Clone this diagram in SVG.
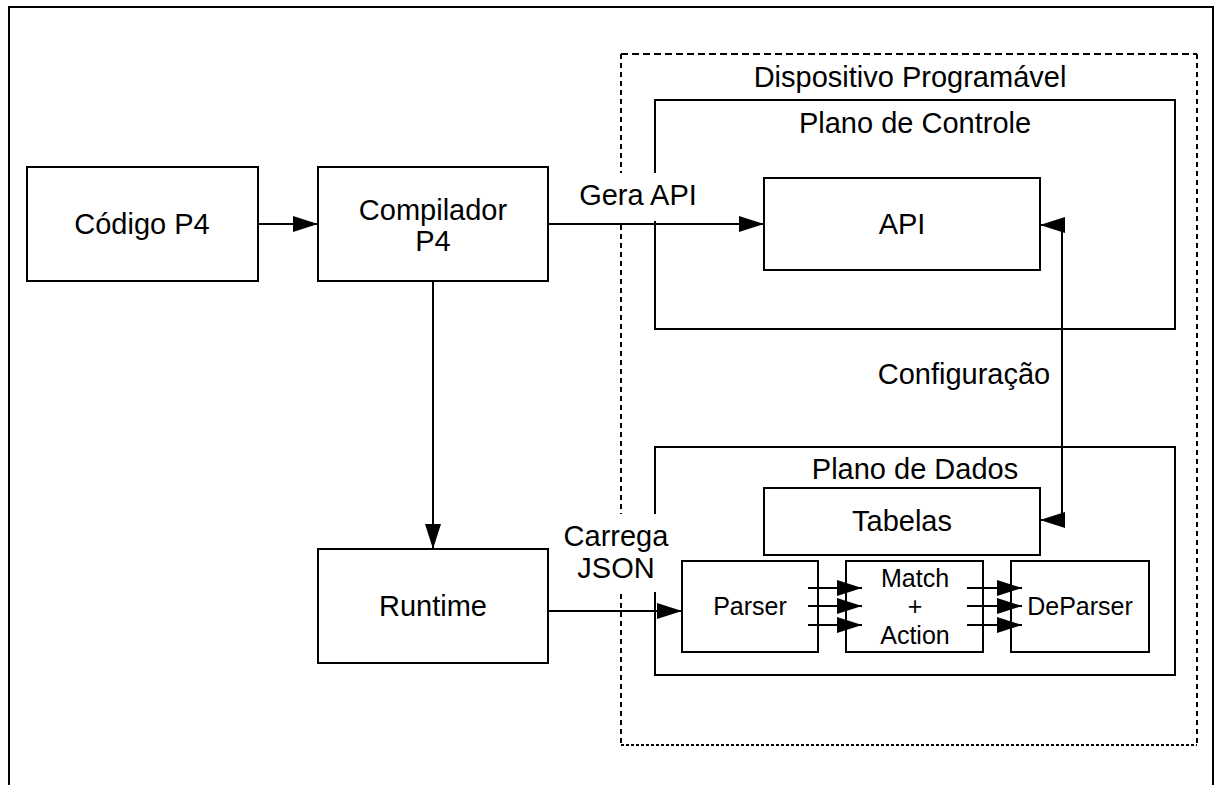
<svg xmlns="http://www.w3.org/2000/svg" width="1216" height="785" viewBox="0 0 1216 785">
  <style>
    .box { fill: #fff; stroke: #000; stroke-width: 2; }
    .frame { fill: none; stroke: #000; stroke-width: 2; }
    .edge { fill: none; stroke: #000; stroke-width: 2; }
    .lbl { font-family: "Liberation Sans", Arial, sans-serif; font-size: 29px; fill: #000; text-anchor: middle; }
    .sm { font-size: 25px; }
    .bg { fill: #fff; stroke: none; }
  </style>
  <defs>
    <marker id="arrow" markerUnits="userSpaceOnUse" markerWidth="25" markerHeight="16" refX="25" refY="8" orient="auto">
      <path d="M0,0 L25,8 L0,16 z" fill="#000"/>
    </marker>
    <marker id="arrowStart" markerUnits="userSpaceOnUse" markerWidth="25" markerHeight="16" refX="0" refY="8" orient="auto">
      <path d="M25,0 L0,8 L25,16 z" fill="#000"/>
    </marker>
  </defs>

  <rect width="1216" height="785" fill="#fff"/>

  <!-- outer page frame, open at the bottom -->
  <path class="frame" d="M9,785 V7 H1213 V785"/>

  <!-- programmable device boundary (dashed) -->
  <g id="dispositivo">
    <line x1="621" y1="54" x2="1197" y2="54" stroke="#000" stroke-width="2" stroke-dasharray="7 4"/>
    <line x1="1197" y1="54" x2="1197" y2="745" stroke="#000" stroke-width="2" stroke-dasharray="5 4"/>
    <line x1="621" y1="54" x2="621" y2="745" stroke="#000" stroke-width="2" stroke-dasharray="5 4"/>
    <line x1="621" y1="745" x2="1197" y2="745" stroke="#000" stroke-width="2" stroke-dasharray="3 2"/>
    <text class="lbl" x="910" y="87">Dispositivo Programável</text>
  </g>

  <!-- control plane -->
  <g id="plano-controle">
    <rect class="box" x="655" y="100" width="520" height="229"/>
    <text class="lbl" x="915" y="133">Plano de Controle</text>
  </g>

  <!-- data plane -->
  <g id="plano-dados">
    <rect class="box" x="655" y="447" width="520" height="228"/>
    <text class="lbl" x="915" y="479">Plano de Dados</text>
  </g>

  <g id="codigo-p4">
    <rect class="box" x="27" y="167" width="231" height="114"/>
    <text class="lbl" x="142" y="234">Código P4</text>
  </g>

  <g id="compilador-p4">
    <rect class="box" x="318" y="167" width="230" height="114"/>
    <text class="lbl" x="433" y="220">Compilador</text>
    <text class="lbl" x="433" y="251">P4</text>
  </g>

  <g id="runtime">
    <rect class="box" x="318" y="549" width="230" height="114"/>
    <text class="lbl" x="433" y="616">Runtime</text>
  </g>

  <g id="api">
    <rect class="box" x="764" y="178" width="276" height="92"/>
    <text class="lbl" x="902" y="234">API</text>
  </g>

  <g id="tabelas">
    <rect class="box" x="764" y="488" width="276" height="67"/>
    <text class="lbl" x="902" y="531">Tabelas</text>
  </g>

  <g id="parser">
    <rect class="box" x="682" y="561" width="136" height="91"/>
    <text class="lbl sm" x="750" y="615">Parser</text>
  </g>

  <g id="match-action">
    <rect class="box" x="846" y="561" width="137" height="91"/>
    <text class="lbl sm" x="915" y="587">Match</text>
    <text class="lbl sm" x="915" y="615">+</text>
    <text class="lbl sm" x="915" y="644">Action</text>
  </g>

  <g id="deparser">
    <rect class="box" x="1011" y="561" width="138" height="91"/>
    <text class="lbl sm" x="1080" y="615">DeParser</text>
  </g>

  <!-- connectors -->
  <g id="connectors">
    <line class="edge" x1="258" y1="224" x2="318" y2="224" marker-end="url(#arrow)"/>
    <line class="edge" x1="548" y1="224" x2="764" y2="224" marker-end="url(#arrow)"/>
    <line class="edge" x1="433" y1="281" x2="433" y2="549" marker-end="url(#arrow)"/>
    <line class="edge" x1="548" y1="611" x2="682" y2="611" marker-end="url(#arrow)"/>
    <path class="edge" d="M1040,225 H1062 V520 H1040" marker-start="url(#arrowStart)" marker-end="url(#arrow)"/>

    <line class="edge" x1="808" y1="588" x2="862" y2="588" marker-end="url(#arrow)"/>
    <line class="edge" x1="808" y1="606" x2="862" y2="606" marker-end="url(#arrow)"/>
    <line class="edge" x1="808" y1="625" x2="862" y2="625" marker-end="url(#arrow)"/>
    <line class="edge" x1="967" y1="588" x2="1022" y2="588" marker-end="url(#arrow)"/>
    <line class="edge" x1="967" y1="606" x2="1022" y2="606" marker-end="url(#arrow)"/>
    <line class="edge" x1="967" y1="625" x2="1022" y2="625" marker-end="url(#arrow)"/>

    <!-- connector labels -->
    <rect class="bg" x="567" y="173" width="143" height="48"/>
    <text class="lbl" x="638" y="205">Gera API</text>
    <rect class="bg" x="552" y="514" width="128" height="78"/>
    <text class="lbl" x="616" y="546">Carrega</text>
    <text class="lbl" x="616" y="578">JSON</text>
    <text class="lbl" x="964" y="384">Configuração</text>
  </g>
</svg>
